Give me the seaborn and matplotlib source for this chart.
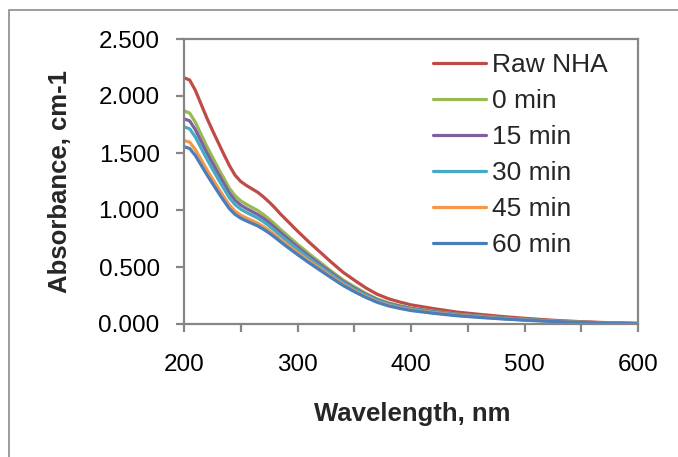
import matplotlib
matplotlib.use("Agg")
import matplotlib.pyplot as plt
import matplotlib.patches as mpatches
from matplotlib.ticker import FormatStrFormatter, MultipleLocator
import pandas as pd
import seaborn as sns

# UV-Vis absorbance spectra
wavelength = [200, 205, 210, 215, 220, 225, 230, 235, 240, 245, 250, 255, 260, 265, 270,
              275, 280, 285, 290, 295, 300, 310, 320, 330, 340, 350, 360, 370, 380, 390, 400,
              420, 440, 460, 480, 500, 525, 550, 575, 600]

raw_nha = [2.160, 2.140, 2.050, 1.930, 1.810, 1.700, 1.595, 1.490, 1.390, 1.305, 1.250, 1.215,
           1.185, 1.155, 1.115, 1.070, 1.020, 0.965, 0.915, 0.865, 0.815, 0.720, 0.630, 0.540,
           0.455, 0.385, 0.318, 0.262, 0.222, 0.193, 0.168, 0.135, 0.105, 0.085, 0.066, 0.050,
           0.033, 0.020, 0.011, 0.005]
min_0 = [1.870, 1.850, 1.770, 1.665, 1.560, 1.465, 1.370, 1.280, 1.190, 1.125, 1.080, 1.050,
         1.022, 0.995, 0.960, 0.920, 0.877, 0.830, 0.787, 0.743, 0.700, 0.618, 0.540, 0.462,
         0.388, 0.327, 0.270, 0.221, 0.186, 0.161, 0.140, 0.112, 0.087, 0.070, 0.054, 0.041,
         0.027, 0.017, 0.009, 0.004]
min_15 = [1.800, 1.782, 1.705, 1.605, 1.505, 1.413, 1.322, 1.235, 1.148, 1.085, 1.043, 1.013,
          0.987, 0.960, 0.927, 0.889, 0.847, 0.802, 0.760, 0.718, 0.676, 0.597, 0.522, 0.447,
          0.375, 0.316, 0.261, 0.214, 0.180, 0.156, 0.135, 0.108, 0.084, 0.067, 0.052, 0.039,
          0.026, 0.016, 0.009, 0.004]
min_30 = [1.730, 1.712, 1.640, 1.545, 1.450, 1.361, 1.274, 1.190, 1.107, 1.047, 1.007, 0.979,
          0.954, 0.929, 0.897, 0.860, 0.820, 0.777, 0.736, 0.696, 0.655, 0.579, 0.506, 0.434,
          0.364, 0.307, 0.253, 0.208, 0.174, 0.150, 0.130, 0.104, 0.081, 0.065, 0.050, 0.038,
          0.025, 0.015, 0.008, 0.004]
min_45 = [1.610, 1.595, 1.530, 1.443, 1.356, 1.275, 1.195, 1.117, 1.043, 0.990, 0.955, 0.930,
          0.907, 0.884, 0.854, 0.820, 0.782, 0.741, 0.702, 0.664, 0.626, 0.553, 0.484, 0.415,
          0.348, 0.292, 0.241, 0.197, 0.165, 0.142, 0.123, 0.098, 0.076, 0.061, 0.047, 0.035,
          0.023, 0.014, 0.008, 0.004]
min_60 = [1.555, 1.540, 1.478, 1.395, 1.312, 1.234, 1.157, 1.082, 1.011, 0.961, 0.928, 0.904,
          0.882, 0.860, 0.831, 0.798, 0.761, 0.721, 0.683, 0.646, 0.609, 0.538, 0.471, 0.404,
          0.339, 0.284, 0.234, 0.191, 0.159, 0.137, 0.118, 0.094, 0.073, 0.058, 0.045, 0.034,
          0.022, 0.013, 0.007, 0.003]

series_names = ["Raw NHA", "0 min", "15 min", "30 min", "45 min", "60 min"]
series_values = [raw_nha, min_0, min_15, min_30, min_45, min_60]
colors = ["#BE4B48", "#98B954", "#7D60A0", "#46AAC5", "#F79646", "#4A7EBB"]

x_ticks = [200, 300, 400, 500, 600]
y_ticks = [0.0, 0.5, 1.0, 1.5, 2.0, 2.5]

frames = [pd.DataFrame({"Wavelength": wavelength, "Absorbance": vals, "Sample": name})
          for name, vals in zip(series_names, series_values)]
df = pd.concat(frames, ignore_index=True)

sns.set_style("white")
plt.rcParams["font.family"] = ["Liberation Sans", "DejaVu Sans"]

W, H = 678, 457
fig = plt.figure(figsize=(W / 100, H / 100), dpi=100)
ax = fig.add_axes([184 / W, 1 - 324 / H, (638 - 184) / W, (324 - 39) / H])

sns.lineplot(data=df, x="Wavelength", y="Absorbance", hue="Sample",
             hue_order=series_names, palette=colors, linewidth=2.3,
             ax=ax, legend=True)

ax.set_xlim(200, 600)
ax.set_ylim(0, 2.5)
ax.set_xticks(x_ticks)
ax.xaxis.set_minor_locator(MultipleLocator(50))
ax.set_yticks(y_ticks)
ax.yaxis.set_major_formatter(FormatStrFormatter("%.3f"))

gray = "#868686"
for s in ax.spines.values():
    s.set_color(gray)
    s.set_linewidth(1.6)

ax.tick_params(axis="both", which="both", direction="out", color=gray, width=1.6,
               labelsize=17.5, labelcolor="black")
ax.tick_params(axis="y", which="major", length=5.5, pad=12, left=True)
ax.tick_params(axis="x", which="major", length=5.5, pad=16, bottom=True)
ax.tick_params(axis="x", which="minor", length=5.5, bottom=True)

ax.set_xlabel("Wavelength, nm", fontsize=18.5, fontweight="bold")
ax.set_ylabel("Absorbance, cm-1", fontsize=18.5, fontweight="bold")
ax.xaxis.label.set_va("center")
ax.yaxis.label.set_va("center")
ax.xaxis.set_label_coords((412 - 184) / 454, (324 - 414) / 285)
ax.yaxis.set_label_coords((60 - 184) / 454, 0.5)

handles, labels = ax.get_legend_handles_labels()
leg = ax.legend(handles, labels, loc="upper left",
                bbox_to_anchor=(433 / W, 1 - 53 / H), bbox_transform=fig.transFigure,
                frameon=False, fontsize=19, handlelength=2.0, handletextpad=0.23,
                labelspacing=0.455, borderpad=0, borderaxespad=0)
for line in leg.get_lines():
    line.set_linewidth(2.3)

# Chart-area border (top and left edges fall inside the canvas)
fig.patches.append(mpatches.Rectangle((9 / W, -0.1), 1.2, 1 - 10 / H + 0.1,
                                      transform=fig.transFigure, fill=False,
                                      edgecolor="#8C8C8C", linewidth=1.2))

fig.savefig("out.png", dpi=100)
